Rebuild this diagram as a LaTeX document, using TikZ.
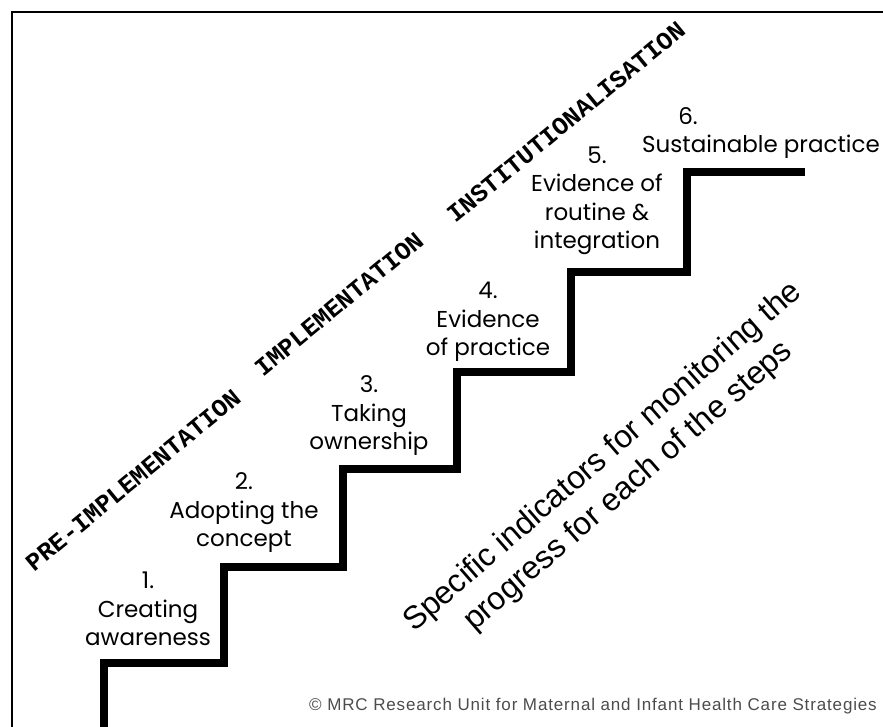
\documentclass[tikz,border=0pt]{standalone}
\usepackage{fontspec}
\newfontfamily\stepfont{Poppins}
\newfontfamily\phasefont{Liberation Mono}
\newfontfamily\notefont{Liberation Sans}
\newfontfamily\creditfont[LetterSpace=5]{Liberation Sans}
\tikzset{
  steplabel/.style={align=center, inner sep=0pt,
    font=\stepfont\fontsize{23}{28.5}\selectfont},
  phase/.style={rotate=39.5, inner sep=0pt,
    font=\phasefont\bfseries\fontsize{25}{25}\selectfont},
  stair/.style={line width=8pt, miter limit=10},
}
\begin{document}
\begin{tikzpicture}[x=1pt,y=-1pt]
  \useasboundingbox (0,0) rectangle (883,727);
  \draw[line width=2.5pt] (12,740) -- (12,12) -- (890,12);
  \draw[stair] (104,735) -- (104,663) -- (224,663) -- (224,567)
    -- (343,567) -- (343,469) -- (457,469) -- (457,372)
    -- (571,372) -- (571,272) -- (687,272) -- (687,172) -- (805,172);
  \node[steplabel] (s1) at (148,609) {1.\\Creating\\awareness};
  \node[steplabel] (s2) at (244,513) {2.\\Adopting the\\concept};
  \node[steplabel] (s3) at (369,416) {3.\\Taking\\ownership};
  \node[steplabel] (s4) at (488,322) {4.\\Evidence\\of practice};
  \node[steplabel] (s5) at (597,201) {5.\\Evidence of\\routine \&\\integration};
  \node[steplabel] (s6) at (761,133) {6.\rule{146pt}{0pt}\\Sustainable practice};
  \node[phase] (pre) at (133,480) {PRE-IMPLEMENTATION};
  \node[phase] (impl) at (339,304) {IMPLEMENTATION};
  \node[phase] (inst) at (566,122) {INSTITUTIONALISATION};
  \node[rotate=41, align=center, inner sep=0pt,
    font=\notefont\fontsize{32}{39}\selectfont] (ind) at (616,472)
    {Specific indicators for monitoring the\\progress for each of the steps};
  \node[anchor=east, inner sep=0pt, text=black!70,
    font=\creditfont\fontsize{17}{20}\selectfont] (copy) at (877,706)
    {\textcopyright{} MRC Research Unit for Maternal and Infant Health Care Strategies};
\end{tikzpicture}
\end{document}
